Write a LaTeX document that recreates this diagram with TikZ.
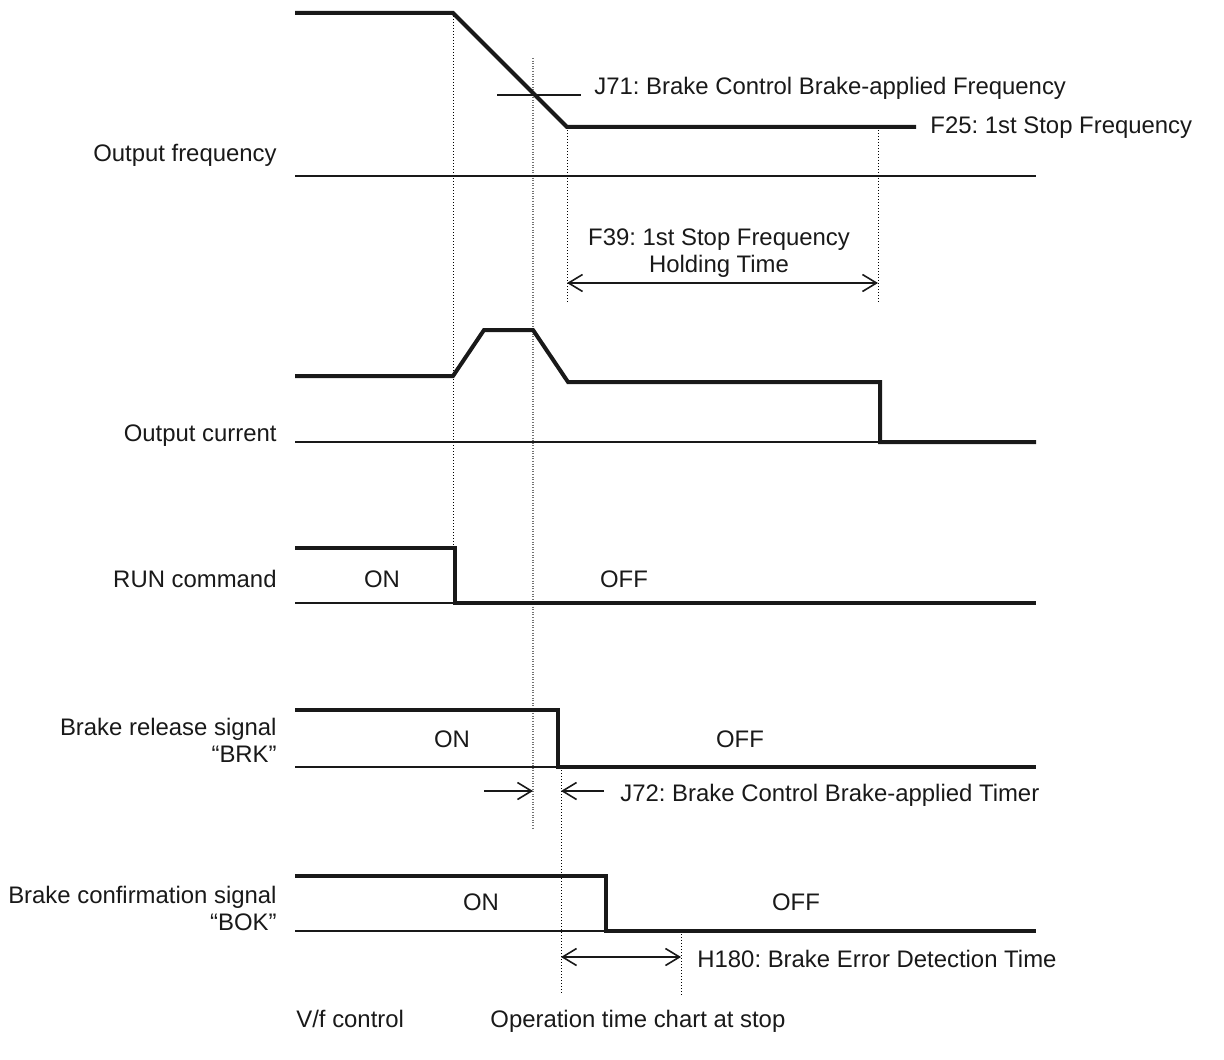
\documentclass[tikz,border=0pt]{standalone}
\usepackage{fontspec}
\setmainfont{Liberation Sans}
\usetikzlibrary{arrows.meta}
\tikzset{tipb/.tip={Straight Barb[length=7pt,width=8.5pt,line width=0.8pt]}}
\frenchspacing
\begin{document}
\begin{tikzpicture}[x=0.5pt,y=-0.5pt,
  wave/.style={line width=2pt, line join=miter, color=black!90},
  base/.style={line width=0.8pt, color=black!90},
  guide/.style={line width=0.5pt, dash pattern=on 0.5pt off 1pt, color=black},
  guidegray/.style={line width=0.6pt, dash pattern=on 0.5pt off 0.8pt, color=black!55},
  dimline/.style={line width=0.8pt, color=black!90},
  lbl/.style={font=\fontsize{11.95}{14}\selectfont\frenchspacing, inner sep=0pt, text=black!90},
]
\useasboundingbox (0,0) rectangle (1224,1059);

% ---------- coordinates ----------
\coordinate (f0) at (295,13);
\coordinate (f1) at (453,13);
\coordinate (f2) at (567,127);
\coordinate (f3) at (916,127);
\coordinate (fb0) at (295,176);
\coordinate (fb1) at (1036,176);
\coordinate (j71a) at (497,95);
\coordinate (j71b) at (581,95);

\coordinate (c0) at (295,376);
\coordinate (c1) at (453,376);
\coordinate (c2) at (484,330);
\coordinate (c3) at (533,330);
\coordinate (c4) at (568,382);
\coordinate (c5) at (880,382);
\coordinate (c6) at (880,442);
\coordinate (c7) at (1036,442);
\coordinate (cb0) at (295,442);

\coordinate (r0) at (295,548);
\coordinate (r1) at (455,548);
\coordinate (r2) at (455,603);
\coordinate (r3) at (1036,603);
\coordinate (rb0) at (295,603);

\coordinate (b0) at (295,710);
\coordinate (b1) at (558,710);
\coordinate (b2) at (558,767);
\coordinate (b3) at (1036,767);
\coordinate (bb0) at (295,767);

\coordinate (k0) at (295,876);
\coordinate (k1) at (606,876);
\coordinate (k2) at (606,931);
\coordinate (k3) at (1036,931);
\coordinate (kb0) at (295,931);

% guide line ends
\coordinate (g1a) at (453,13);   \coordinate (g1b) at (453,603);
\coordinate (g2a) at (533,58);   \coordinate (g2b) at (533,828);
\coordinate (g3a) at (567,127);  \coordinate (g3b) at (567,303);
\coordinate (g5a) at (878,127);  \coordinate (g5b) at (878,303);
\coordinate (g4a) at (561,767);  \coordinate (g4b) at (561,995);
\coordinate (g6a) at (681,931);  \coordinate (g6b) at (681,995);

% dimension arrows
\coordinate (f39a) at (567,283); \coordinate (f39b) at (878,283);
\coordinate (j72a) at (484,791); \coordinate (j72b) at (533,791);
\coordinate (j72c) at (604,791); \coordinate (j72d) at (561,791);
\coordinate (h18a) at (561,957); \coordinate (h18b) at (681,957);

% ---------- guides ----------
\draw[guide] (g1a) -- (g1b);
\draw[guidegray] (g2a) -- (g2b);
\draw[guide] (g3a) -- (g3b);
\draw[guide] (g5a) -- (g5b);
\draw[guide] (g4a) -- (g4b);
\draw[guide] (g6a) -- (g6b);

% ---------- baselines ----------
\draw[base] (fb0) -- (fb1);
\draw[base] (j71a) -- (j71b);
\draw[base] (cb0) -- (c6);
\draw[base] (rb0) -- (r2);
\draw[base] (bb0) -- (b2);
\draw[base] (kb0) -- (k2);

% ---------- waveforms ----------
\draw[wave] (f0) -- (f1) -- (f2) -- (f3);
\draw[wave] (c0) -- (c1) -- (c2) -- (c3) -- (c4) -- (c5) -- (c6) -- (c7);
\draw[wave] (r0) -- (r1) -- (r2) -- (r3);
\draw[wave] (b0) -- (b1) -- (b2) -- (b3);
\draw[wave] (k0) -- (k1) -- (k2) -- (k3);

% ---------- dimension arrows ----------
\draw[dimline, tipb-tipb] (f39a) -- (f39b);
\draw[dimline, -tipb] (j72a) -- (j72b);
\draw[dimline, -tipb] (j72c) -- (j72d);
\draw[dimline, tipb-tipb] (h18a) -- (h18b);

% ---------- labels ----------
\node[lbl, anchor=base east] (lof) at (277,162) {Output frequency};
\node[lbl, anchor=base east] (loc) at (277,441) {Output current};
\node[lbl, anchor=base east] (lrun) at (277,587) {RUN command};
\node[lbl, anchor=base east] (lbrk1) at (277,735) {Brake release signal};
\node[lbl, anchor=base east] (lbrk2) at (277,762) {“BRK”};
\node[lbl, anchor=base east] (lbok1) at (277,903) {Brake confirmation signal};
\node[lbl, anchor=base east] (lbok2) at (277,930) {“BOK”};

\node[lbl, anchor=base west] (tj71) at (594,95) {J71: Brake Control Brake-applied Frequency};
\node[lbl, anchor=base west] (tf25) at (930,134) {F25: 1st Stop Frequency};
\node[lbl, anchor=base] (tf39a) at (719,245) {F39: 1st Stop Frequency};
\node[lbl, anchor=base] (tf39b) at (719,272) {Holding Time};

\node[lbl, anchor=base] (ron) at (382,587) {ON};
\node[lbl, anchor=base] (roff) at (624,587) {OFF};
\node[lbl, anchor=base] (bon) at (452,747) {ON};
\node[lbl, anchor=base] (boff) at (740,747) {OFF};
\node[lbl, anchor=base] (kon) at (481,910) {ON};
\node[lbl, anchor=base] (koff) at (796,910) {OFF};

\node[lbl, anchor=base west] (tj72) at (620,801) {J72: Brake Control Brake-applied Timer};
\node[lbl, anchor=base west] (th180) at (697,967) {H180: Brake Error Detection Time};

\node[lbl, anchor=base west] (tvf) at (296,1027) {V/f control};
\node[lbl, anchor=base west] (top) at (490,1027) {Operation time chart at stop};
\end{tikzpicture}
\end{document}
